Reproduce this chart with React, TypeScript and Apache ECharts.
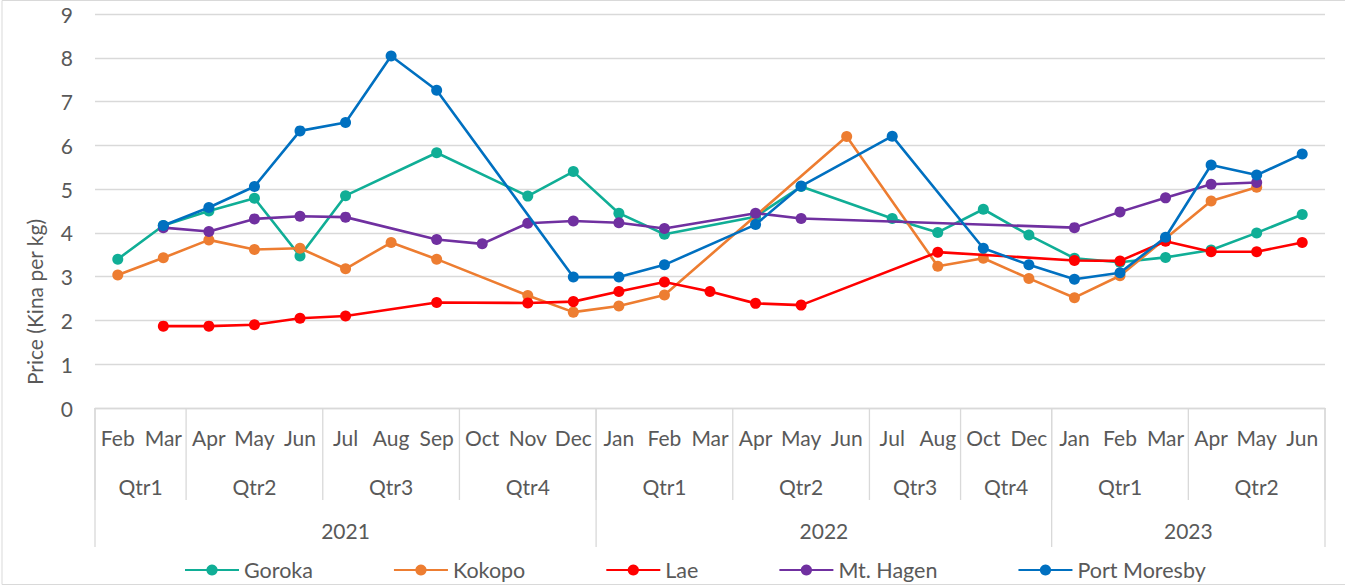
import React, { useEffect, useRef } from 'react';
import * as echarts from 'echarts';

const months = ['Feb','Mar','Apr','May','Jun','Jul','Aug','Sep','Oct','Nov','Dec','Jan','Feb','Mar','Apr','May','Jun','Jul','Aug','Oct','Dec','Jan','Feb','Mar','Apr','May','Jun'];
const quarterLabels = ['Qtr1','Qtr2','Qtr3','Qtr4','Qtr1','Qtr2','Qtr3','Qtr4','Qtr1','Qtr2'];
const quarterSpans = [2, 3, 3, 3, 3, 3, 2, 2, 3, 3];
const yearLabels = ['2021', '2022', '2023'];
const yearSpans = [11, 10, 6];
const yTicks = [0, 1, 2, 3, 4, 5, 6, 7, 8, 9];

const seriesNames = ['Goroka', 'Kokopo', 'Lae', 'Mt. Hagen', 'Port Moresby'];
const goroka = [3.40, 4.17, 4.50, 4.79, 3.47, 4.85, null, 5.83, null, 4.84, 5.40, 4.45, 3.97, null, 4.37, 5.06, null, 4.33, 4.01, 4.54, 3.95, 3.42, 3.33, 3.44, 3.61, 4.00, 4.42];
const kokopo = [3.04, 3.43, 3.84, 3.62, 3.65, 3.18, 3.78, 3.40, null, 2.57, 2.19, 2.33, 2.58, null, null, null, 6.20, null, 3.24, 3.42, 2.96, 2.52, 3.02, 3.87, 4.73, 5.04, null];
const lae = [null, 1.87, 1.87, 1.90, 2.05, 2.10, null, 2.41, null, 2.40, 2.43, 2.66, 2.88, 2.66, 2.39, 2.35, null, null, 3.56, null, null, 3.37, 3.36, 3.81, 3.57, 3.57, 3.78];
const hagen = [null, 4.12, 4.03, 4.32, 4.38, 4.36, null, 3.85, 3.75, 4.22, 4.27, 4.23, 4.10, null, 4.45, 4.33, null, null, null, null, null, 4.12, 4.48, 4.80, 5.11, 5.15, null];
const moresby = [null, 4.17, 4.58, 5.06, 6.33, 6.52, 8.04, 7.26, null, null, 2.99, 2.99, 3.27, null, 4.19, 5.07, null, 6.21, null, 3.65, 3.27, 2.94, 3.09, 3.90, 5.55, 5.32, 5.80];
const seriesData = [goroka, kokopo, lae, hagen, moresby];
const seriesColors = ['#10AE96', '#ED7D31', '#FF0000', '#7030A0', '#0070C0'];

const FONT = 'Lato, "Open Sans", sans-serif';
const TXT = '#595959';
const GRIDC = '#d9d9d9';
const FS = 21;

function spansToRanges(spans: number[]) {
  const out: number[][] = [];
  let s = 0;
  spans.forEach((n) => {
    out.push([s, s + n - 1, 0]);
    s += n;
  });
  return out;
}

function makeRender(labels: string[], textOffset: number, lineLen: number, total: number) {
  return (params: any, api: any) => {
    const s = api.value(0);
    const e = api.value(1);
    const bw = api.size([1, 0])[0];
    const base = api.coord([s, 0])[1];
    const xa = api.coord([s, 0])[0] - bw / 2;
    const xb = api.coord([e, 0])[0] + bw / 2;
    const children: any[] = [
      {
        type: 'line',
        shape: { x1: xa, y1: base, x2: xa, y2: base + lineLen },
        style: { stroke: GRIDC, lineWidth: 1.3 },
      },
      {
        type: 'text',
        style: {
          text: labels[params.dataIndex],
          x: (xa + xb) / 2,
          y: base + textOffset,
          align: 'center',
          verticalAlign: 'middle',
          fill: TXT,
          font: FS + 'px ' + FONT,
        },
      },
    ];
    if (e === total - 1) {
      children.push({
        type: 'line',
        shape: { x1: xb, y1: base, x2: xb, y2: base + lineLen },
        style: { stroke: GRIDC, lineWidth: 1.3 },
      });
    }
    return { type: 'group', children };
  };
}

export default function App() {
  const ref = useRef<HTMLDivElement>(null);
  useEffect(() => {
    document.body.style.margin = '0';
    const chart = echarts.init(ref.current!, undefined, { renderer: 'svg' });
    const cats = months.map((m, i) => m + '|' + i);
    const lineSeries = seriesNames.map((name, i) => ({
      name,
      type: 'line',
      data: seriesData[i],
      connectNulls: true,
      symbol: 'circle',
      symbolSize: 11,
      lineStyle: { width: 2.6, color: seriesColors[i] },
      itemStyle: { color: seriesColors[i] },
      z: 3 + i,
    }));
    chart.setOption({
      animation: false,
      backgroundColor: '#ffffff',
      grid: { left: 95, right: 20, top: 14, bottom: 178 },
      legend: {
        data: seriesNames,
        top: 554,
        left: 179,
        itemGap: 80,
        itemWidth: 54,
        itemHeight: 14,
        textStyle: { fontFamily: FONT, fontSize: 21.5, color: TXT, lineHeight: 22 },
      },
      xAxis: {
        type: 'category',
        data: cats,
        boundaryGap: true,
        axisLine: { lineStyle: { color: GRIDC, width: 1.3 } },
        axisTick: { show: false },
        axisLabel: {
          interval: 0,
          margin: 19,
          fontFamily: FONT,
          fontSize: FS,
          color: TXT,
          formatter: (v: string) => v.split('|')[0],
        },
      },
      yAxis: {
        type: 'value',
        min: yTicks[0],
        max: yTicks[yTicks.length - 1],
        interval: 1,
        axisLine: { show: false },
        axisTick: { show: false },
        axisLabel: { margin: 22, fontFamily: FONT, fontSize: FS, color: TXT },
        splitLine: { lineStyle: { color: GRIDC, width: 1.3 } },
      },
      graphic: [
        {
          type: 'text',
          x: 34,
          y: 302,
          rotation: Math.PI / 2,
          style: {
            text: 'Price (Kina per kg)',
            align: 'center',
            verticalAlign: 'middle',
            fill: TXT,
            font: FS + 'px ' + FONT,
          },
        },
        {
          type: 'rect',
          shape: { x: 2, y: 0.5, width: 1350, height: 584 },
          style: { fill: 'none', stroke: GRIDC, lineWidth: 1 },
          silent: true,
        },
      ],
      series: [
        ...lineSeries,
        {
          type: 'custom',
          name: 'quarters',
          silent: true,
          clip: false,
          coordinateSystem: 'cartesian2d',
          encode: { x: [0, 1], y: 2 },
          data: spansToRanges(quarterSpans),
          renderItem: makeRender(quarterLabels, 78, 92, months.length),
        },
        {
          type: 'custom',
          name: 'years',
          silent: true,
          clip: false,
          coordinateSystem: 'cartesian2d',
          encode: { x: [0, 1], y: 2 },
          data: spansToRanges(yearSpans),
          renderItem: makeRender(yearLabels, 122, 139, months.length),
        },
      ],
    });
    return () => chart.dispose();
  }, []);
  return <div ref={ref} style={{ width: 1345, height: 586 }} />;
}
